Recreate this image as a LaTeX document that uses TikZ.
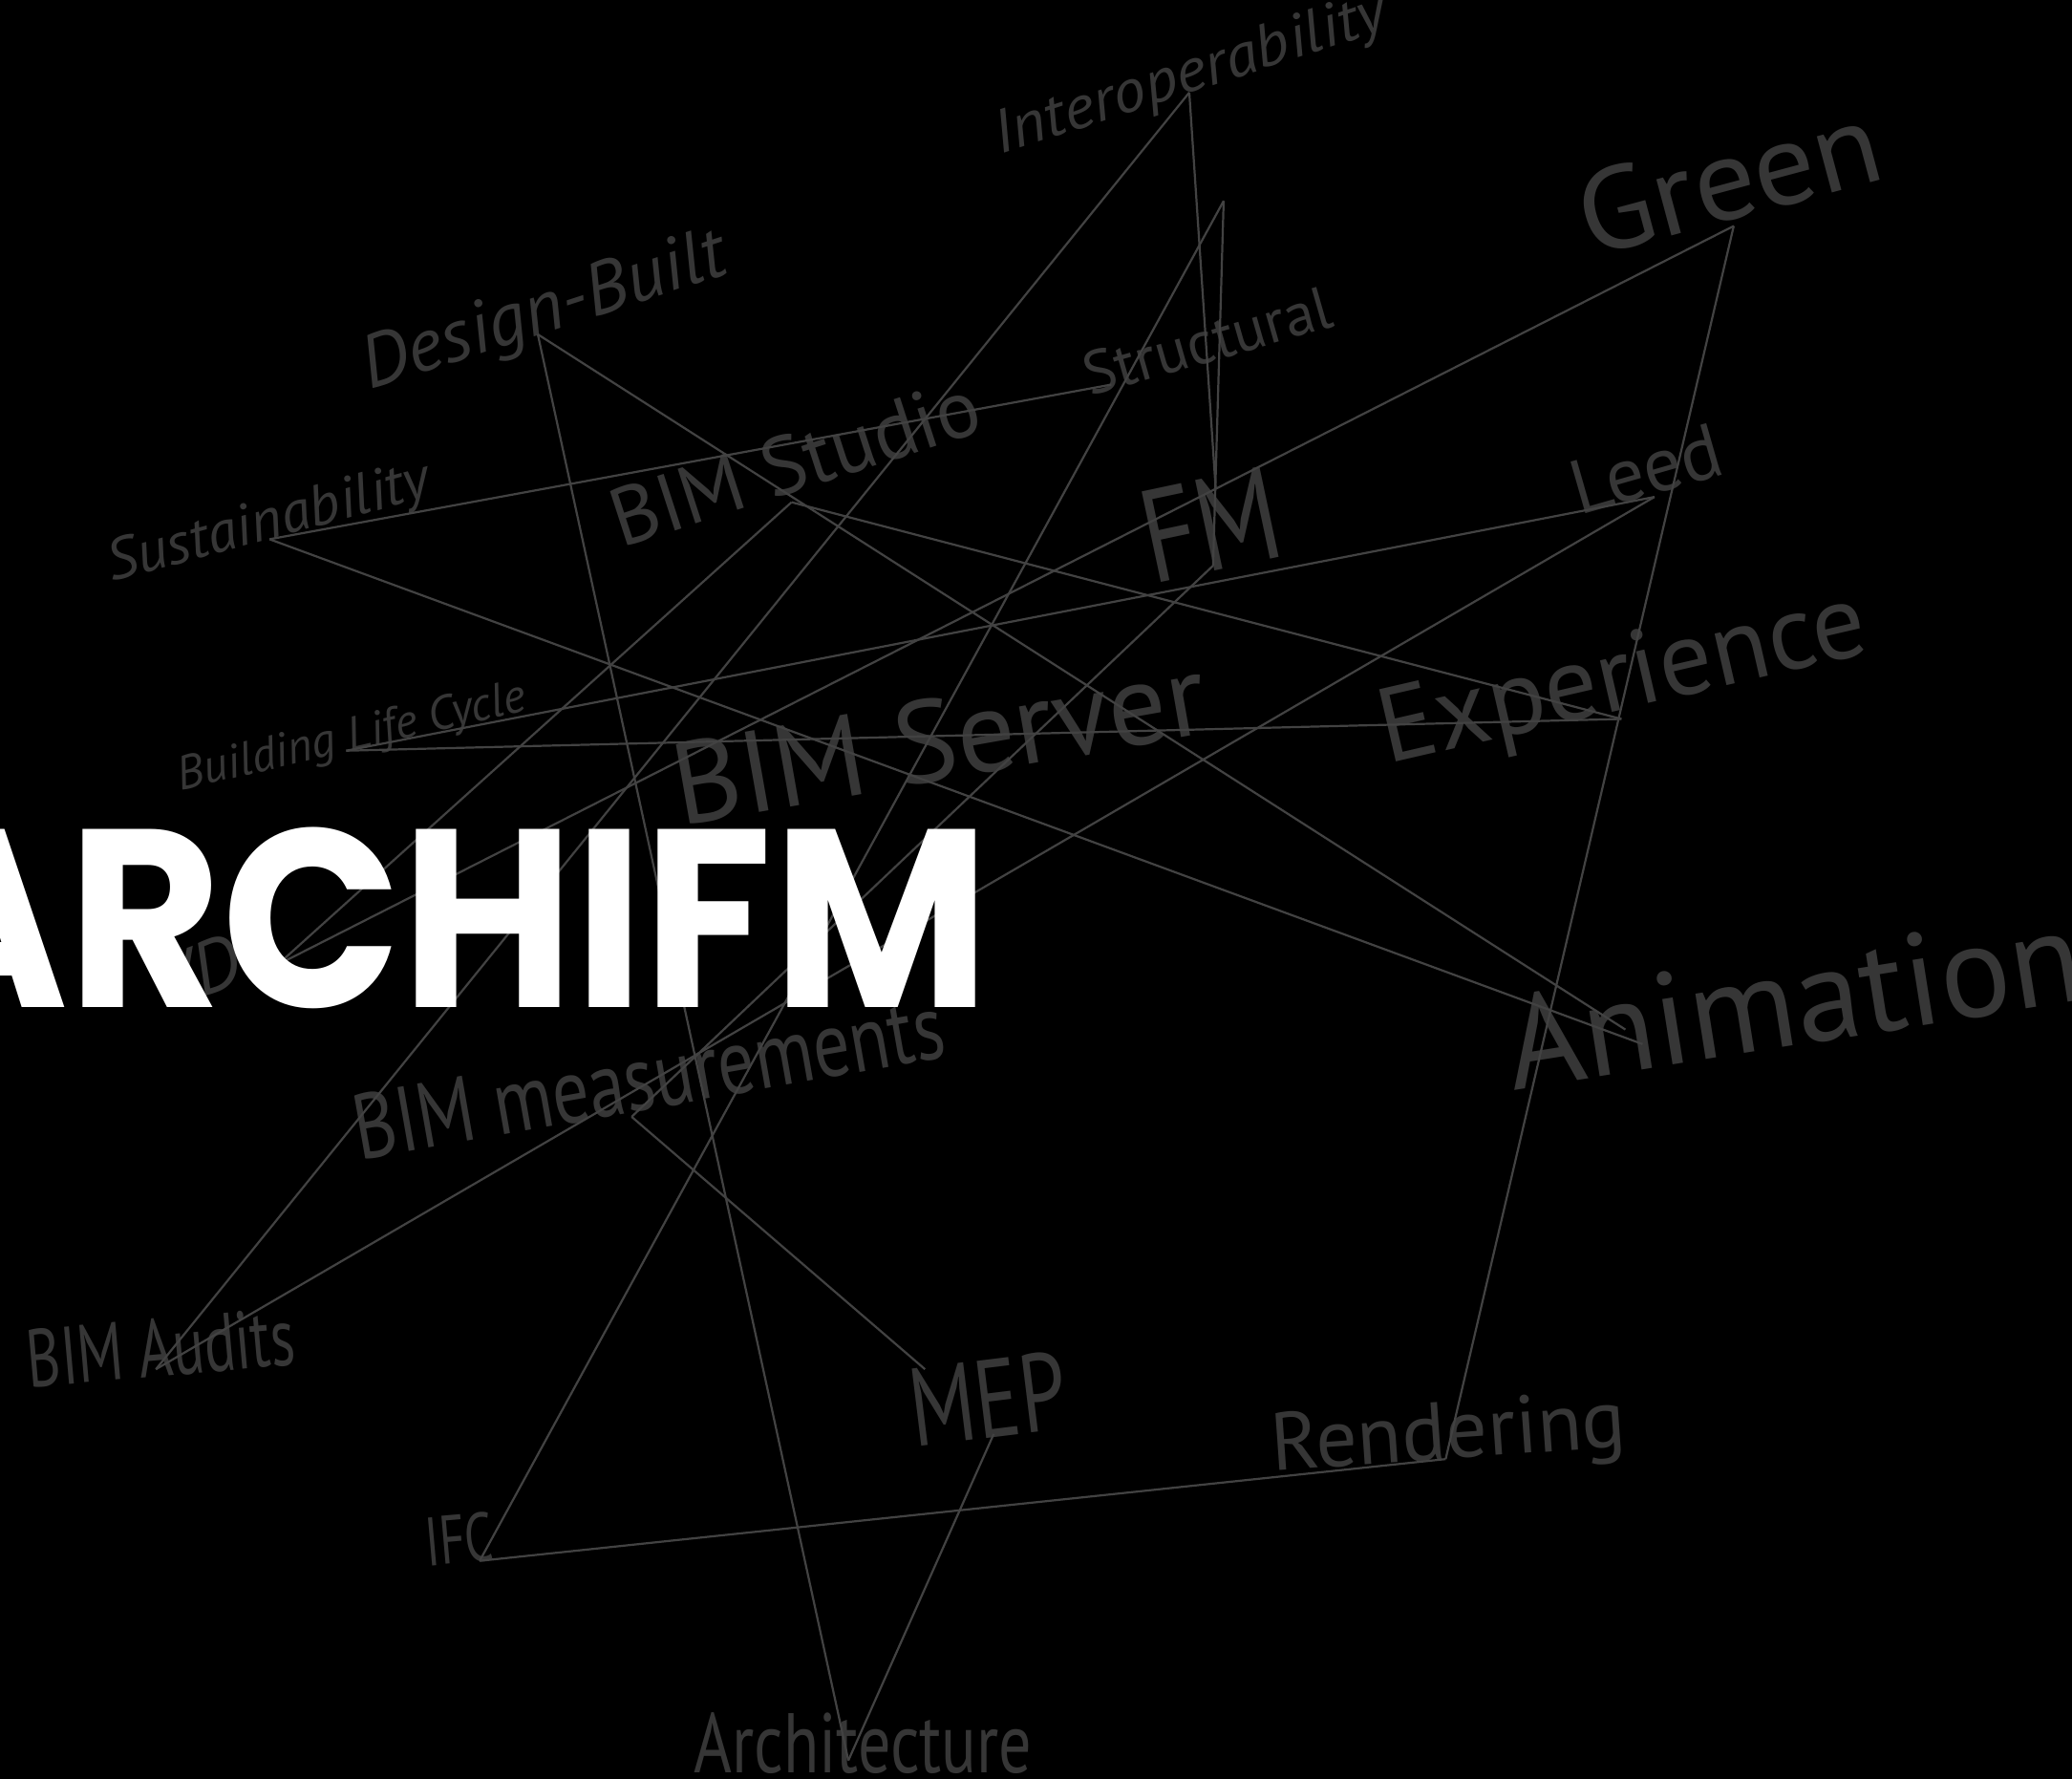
\documentclass[tikz,border=0pt]{standalone}
\usepackage{fontspec}
\setmainfont{PT Sans}
\newfontfamily\titlefont{Poppins}
\definecolor{tagcol}{HTML}{363636}
\definecolor{linkcol}{HTML}{424242}
\newcommand{\tagsize}[1]{\fontsize{#1}{#1}\selectfont}
\tikzset{
  tag/.style={text=tagcol, inner sep=0pt, anchor=base west},
  link/.style={draw=linkcol, line width=1.6pt},
}
\begin{document}
\begin{tikzpicture}[x=1pt, y=-1pt]
  \fill[black] (0,0) rectangle (1568,1346);
  \useasboundingbox (0,0) rectangle (1568,1346);
  \clip (0,0) rectangle (1568,1346);

  \node[tag, rotate=18, xscale=1.08, font=\itshape\tagsize{46}] (interop) at (757,117) {Interoperability};
  \node[tag, rotate=18, xscale=1.02, font=\itshape\tagsize{56}] (design) at (280,295) {Design-Built};
  \node[tag, rotate=15, xscale=1.03, font=\itshape\tagsize{44}] (sustain) at (85,440) {Sustainability};
  \node[tag, rotate=16, font=\tagsize{46}] (struct) at (825,300) {Structural};
  \node[tag, rotate=18, font=\tagsize{62}] (studio) at (470,415) {BIM Studio};
  \node[tag, rotate=15, xscale=1.06, font=\tagsize{88}] (green) at (1203,195) {Green};
  \node[tag, rotate=16, font=\tagsize{58}] (leed) at (1195,390) {Leed};
  \node[tag, rotate=12, xscale=0.8, font=\tagsize{100}] (fm) at (872,442) {FM};
  \node[tag, rotate=13, font=\tagsize{80}] (exper) at (1050,578) {Experience};
  \node[tag, rotate=10, font=\tagsize{88}] (server) at (515,625) {BIM Server};
  \node[tag, rotate=13, font=\itshape\tagsize{36}] (cycle) at (137,598) {Building Life Cycle};
  \node[tag, rotate=20, font=\itshape\tagsize{56}] (vdc) at (125,765) {VDC};
  \node[tag, rotate=9, font=\tagsize{100}] (anim) at (1145,825) {Animation};
  \node[tag, rotate=10, xscale=0.79, font=\tagsize{70}] (measure) at (272,878) {BIM measurements};
  \node[tag, rotate=5, xscale=0.71, font=\tagsize{62}] (audits) at (22,1050) {BIM Audits};
  \node[tag, rotate=7, xscale=0.75, font=\tagsize{84}] (mep) at (692,1095) {MEP};
  \node[tag, rotate=4, font=\tagsize{62}] (render) at (963,1113) {Rendering};
  \node[tag, rotate=5, xscale=0.72, font=\tagsize{52}] (ifc) at (323,1185) {IFC};
  \node[tag, xscale=0.77, font=\tagsize{64}] (arch) at (525,1341) {Architecture};

  \coordinate (hI) at (900,70);
  \coordinate (hP) at (926,152);
  \coordinate (hStr) at (841,291);
  \coordinate (hD) at (407,253);
  \coordinate (hS) at (204,408);
  \coordinate (hBS) at (599,380);
  \coordinate (hFMa) at (920,370);
  \coordinate (hFMb) at (918,428);
  \coordinate (hG) at (1312,171);
  \coordinate (hL) at (1252,376);
  \coordinate (hE) at (1227,544);
  \coordinate (hAa) at (1230,779);
  \coordinate (hAb) at (1243,790);
  \coordinate (hBLC) at (262,568);
  \coordinate (hVDC) at (210,730);
  \coordinate (hM) at (478,845);
  \coordinate (hBA) at (118,1036);
  \coordinate (hMEPa) at (700,1036);
  \coordinate (hMEPb) at (752,1085);
  \coordinate (hArch) at (642,1332);
  \coordinate (hIFC) at (363,1181);
  \coordinate (hR) at (1094,1104);

  \draw[link] (hI) -- (hBA);
  \draw[link] (hI) -- (hFMa);
  \draw[link] (hP) -- (hFMb);
  \draw[link] (hP) -- (hIFC);
  \draw[link] (hS) -- (hStr);
  \draw[link] (hS) -- (hAb);
  \draw[link] (hD) -- (hArch);
  \draw[link] (hD) -- (hAa);
  \draw[link] (hG) -- (hR);
  \draw[link] (hG) -- (hVDC);
  \draw[link] (hL) -- (hBLC);
  \draw[link] (hL) -- (hBA);
  \draw[link] (hE) -- (hBLC);
  \draw[link] (hE) -- (hBS);
  \draw[link] (hBS) -- (hVDC);
  \draw[link] (hFMb) -- (hM);
  \draw[link] (hM) -- (hMEPa);
  \draw[link] (hMEPb) -- (hArch);
  \draw[link] (hIFC) -- (hR);

  \node[text=white, inner sep=0pt, anchor=base east, xscale=0.93, font=\titlefont\bfseries\tagsize{192}] (title) at (749,762) {ARCHIFM};
\end{tikzpicture}
\end{document}
